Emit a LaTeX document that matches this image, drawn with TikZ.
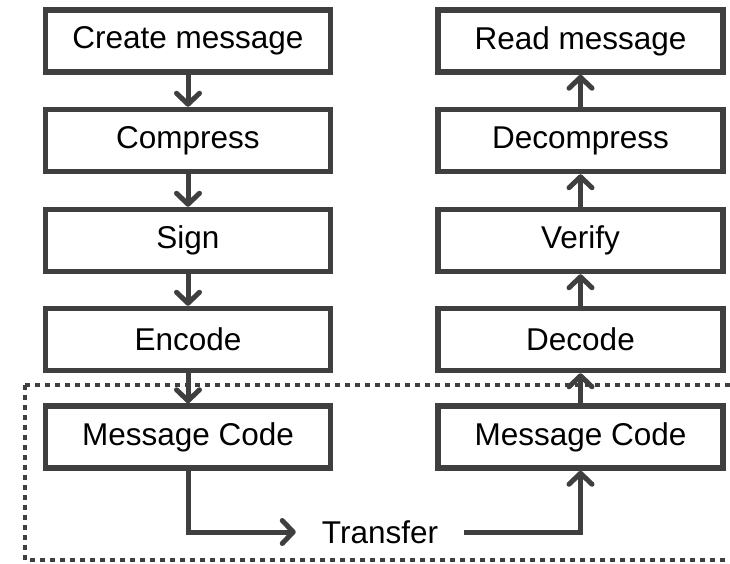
\documentclass[tikz,border=0pt]{standalone}
\usepackage{fontspec}
\setmainfont{Liberation Sans}
\usetikzlibrary{arrows.meta}
\definecolor{ln}{HTML}{3F3F3F}
\begin{document}
\begin{tikzpicture}[x=1pt,y=-1pt,
  box/.style={draw=ln,line width=5.5pt,minimum width=285pt,minimum height=62pt,inner sep=0pt,font=\fontsize{31.5}{36}\selectfont,text=black},
  flow/.style={draw=ln,line width=5pt,-{Straight Barb[length=11pt,width=23pt,line cap=round,line join=round]}},
  area/.style={draw=ln,line width=4.5pt,dash pattern=on 4.5pt off 5.5pt}]
\clip (0,0) rectangle (730,564);
\node[box] (c1) at (188,41) {Create message};
\node[box] (c2) at (188,140.5) {Compress};
\node[box] (c3) at (188,240.5) {Sign};
\node[box] (c4) at (188,339.5) {Encode};
\node[box] (c5) at (188,437) {Message Code};
\node[box] (r1) at (580.5,41) {Read message};
\node[box] (r2) at (580.5,140.5) {Decompress};
\node[box] (r3) at (580.5,240.5) {Verify};
\node[box] (r4) at (580.5,339.5) {Decode};
\node[box] (r5) at (580.5,437) {Message Code};
\draw[area] (25,385) -- (760,385) (25,385) -- (25,560) -- (760,560);
\node[inner xsep=26pt,inner ysep=0pt,font=\fontsize{31.5}{36}\selectfont] (t) at (380,532) {Transfer};
\draw[flow] (c1) -- (c2);
\draw[flow] (c2) -- (c3);
\draw[flow] (c3) -- (c4);
\draw[flow] (c4) -- (c5);
\draw[flow] (r2) -- (r1);
\draw[flow] (r3) -- (r2);
\draw[flow] (r4) -- (r3);
\draw[flow] (r5) -- (r4);
\draw[flow] (c5.south) |- (t.west);
\draw[flow] (t.east) -| (r5.south);
\end{tikzpicture}
\end{document}
